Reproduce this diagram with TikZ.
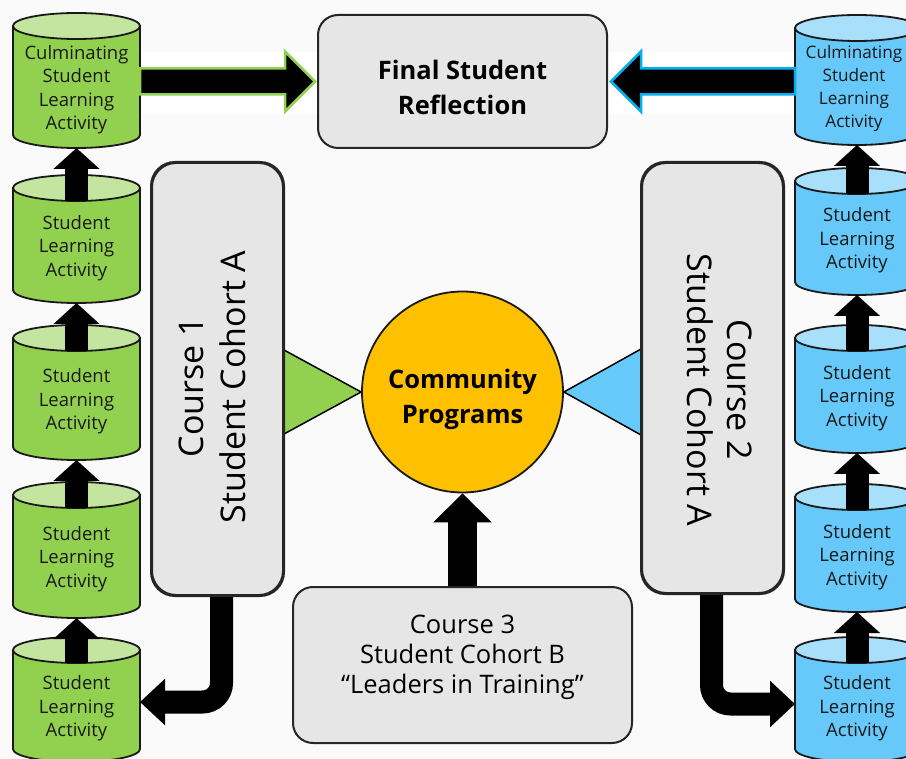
\documentclass[tikz,border=0pt]{standalone}
\usepackage{fontspec}
\setmainfont{Open Sans}
\usetikzlibrary{arrows.meta,calc}
\definecolor{bg}{HTML}{FAFAFA}
\definecolor{grbody}{HTML}{92D050}
\definecolor{grtop}{HTML}{C4E59F}
\definecolor{blbody}{HTML}{66C9FA}
\definecolor{bltop}{HTML}{A8E0FC}
\definecolor{boxfill}{HTML}{E6E6E6}
\definecolor{circfill}{HTML}{FFC000}
\definecolor{blline}{HTML}{00B0F0}
\tikzset{
  cylline/.style={draw=black!90, line width=1.8pt},
  cylnode/.style={draw=none, inner sep=0pt, outer sep=0pt},
  cyltext/.style={align=center, text=black!90, font=\fontsize{18.5}{23.5}\selectfont},
  graybox/.style={draw=black!85, fill=boxfill, line width=2pt, rounded corners=20pt, inner sep=0pt},
  uparrow/.style={draw=black, line width=23pt, -{Triangle[width=45pt,length=21pt]}},
  bendarrow/.style={draw=black, line width=23pt, rounded corners=19pt, -{Triangle[width=45pt,length=25pt]}},
  bigup/.style={draw=black, line width=29pt, -{Triangle[width=57pt,length=29pt]}},
  trishape/.style={draw=black, line width=1.5pt, line join=miter},
  toparrow/.style={fill=black, line width=2.5pt, line join=miter},
}
\newcommand\mycyl[9]{%
  \filldraw[fill=#6, cylline] ({#2-#5},{-#3-13}) -- ({#2-#5},{-#4+13}) arc[start angle=180,end angle=360,x radius=#5,y radius=13] -- ({#2+#5},{-#3-13}) -- cycle;
  \filldraw[fill=#7, cylline] (#2,{-#3-13}) ellipse[x radius=#5, y radius=13];
  \node[cylnode, minimum width={2*#5}, minimum height={#4-#3}] (#1) at (#2,{-(#3+#4)/2}) {};
  \node[cyltext, #9] (#1t) at (#2,{-(#3+#4)/2-9}) {#8};
}
\begin{document}
\begin{tikzpicture}[x=1pt,y=1pt]
\useasboundingbox (0,0) rectangle (906,-759);
\clip (0,0) rectangle (906,-759);
\fill[bg] (0,0) rectangle (906,-759);
\fill[white] (140,-52) rectangle (318,-114);
\fill[white] (607,-52) rectangle (795,-114);

% left cylinders
\mycyl{L1}{76.5}{13}{148}{63.5}{grbody}{grtop}{Culminating\\Student\\Learning\\Activity}{}
\mycyl{L2}{76.5}{175}{303}{63.5}{grbody}{grtop}{Student\\Learning\\Activity}{}
\mycyl{L3}{76.5}{325}{460}{63.5}{grbody}{grtop}{Student\\Learning\\Activity}{}
\mycyl{L4}{76.5}{482}{618}{63.5}{grbody}{grtop}{Student\\Learning\\Activity}{}
\mycyl{L5}{76.5}{637}{762}{63.5}{grbody}{grtop}{Student\\Learning\\Activity}{}
% right cylinders
\mycyl{R1}{857}{15}{145}{62}{blbody}{bltop}{Culminating\\Student\\Learning\\Activity}{font=\fontsize{17.2}{23}\selectfont, xshift=-3pt}
\mycyl{R2}{857}{168}{295}{62}{blbody}{bltop}{Student\\Learning\\Activity}{}
\mycyl{R3}{857}{325}{453}{62}{blbody}{bltop}{Student\\Learning\\Activity}{}
\mycyl{R4}{857}{484}{612}{62}{blbody}{bltop}{Student\\Learning\\Activity}{}
\mycyl{R5}{857}{637}{762}{62}{blbody}{bltop}{Student\\Learning\\Activity}{}

% arrows between cylinders
\draw[uparrow] ($(L2.north)+(0,-26)$) -- (L1.south);
\draw[uparrow] ($(L3.north)+(0,-26)$) -- (L2.south);
\draw[uparrow] ($(L4.north)+(0,-26)$) -- (L3.south);
\draw[uparrow] ($(L5.north)+(0,-26)$) -- (L4.south);
\draw[uparrow] ($(R2.north)+(0,-26)$) -- (R1.south);
\draw[uparrow] ($(R3.north)+(0,-26)$) -- (R2.south);
\draw[uparrow] ($(R4.north)+(0,-26)$) -- (R3.south);
\draw[uparrow] ($(R5.north)+(0,-26)$) -- (R4.south);

% central circle
\node[circle, draw=black!90, line width=1.8pt, fill=circfill, minimum size=201pt, inner sep=0pt] (cp) at (462.5,-392) {};
\node[align=center, font=\fontsize{25.5}{35}\selectfont\bfseries] (cpt) at (462.5,-399.5) {Community\\Programs};

% boxes
\node[graybox, minimum width=289pt, minimum height=133pt] (fsr) at (462.5,-81.5) {};
\node[align=center, font=\fontsize{25.5}{35}\selectfont\bfseries] (fsrt) at (462.5,-87.5) {Final Student\\Reflection};

\node[graybox, rounded corners=24pt, minimum width=131pt, minimum height=432pt] (co1) at (217.5,-379) {};
\node[graybox, rounded corners=24pt, minimum width=141pt, minimum height=430pt] (co2) at (712.5,-378) {};
\node[graybox, minimum width=339pt, minimum height=156pt] (co3) at (462.5,-665) {};

% triangles
\filldraw[trishape, fill=grbody] ($(co1.east |- cp.west)+(0,42)$) -- (cp.west) -- ($(co1.east |- cp.west)+(0,-42)$) -- cycle;
\filldraw[trishape, fill=blbody] ($(co2.west |- cp.east)+(0,43)$) -- (cp.east) -- ($(co2.west |- cp.east)+(0,-43)$) -- cycle;
\draw[draw=black!85, line width=2pt, rounded corners=24pt] (co1.north west) rectangle (co1.south east);
\draw[draw=black!85, line width=2pt, rounded corners=24pt] (co2.north west) rectangle (co2.south east);

\node[rotate=90, align=center, font=\fontsize{34}{42}\selectfont] (co1t) at (212,-387) {Course 1\\Student Cohort A};
\node[rotate=-90, align=center, font=\fontsize{34}{40}\selectfont] (co2t) at (720,-390) {Course 2\\Student Cohort A};
\node[align=center, font=\fontsize{25.5}{30}\selectfont] (co3t) at (462.5,-657) {Course 3\\Student Cohort B\\“Leaders in Training”};

% top arrows
\coordinate (la) at (L1.east |- fsr.west);
\coordinate (lt) at ($(fsr.west)+(-2,0)$);
\filldraw[toparrow, draw=grbody] ($(la)+(0,13)$) -- ($(lt)+(-30,13)$) -- ($(lt)+(-30,30)$) -- (lt) -- ($(lt)+(-30,-30)$) -- ($(lt)+(-30,-13)$) -- ($(la)+(0,-13)$) -- cycle;
\coordinate (ra) at (R1.west |- fsr.east);
\coordinate (rt) at ($(fsr.east)+(3,0)$);
\filldraw[toparrow, draw=blline] ($(ra)+(0,13)$) -- ($(rt)+(30,13)$) -- ($(rt)+(30,30)$) -- (rt) -- ($(rt)+(30,-30)$) -- ($(rt)+(30,-13)$) -- ($(ra)+(0,-13)$) -- cycle;

% bent arrows and course 3 arrow
\draw[bendarrow] ($(co1.south)+(4,-1)$) |- ($(L5.east)+(0,-2.5)$);
\draw[bendarrow] ($(co2.south)+(-1,-1)$) |- ($(R5.west)+(0,-4.5)$);
\draw[bigup] (co3.north) -- (cp.south);
\end{tikzpicture}
\end{document}
